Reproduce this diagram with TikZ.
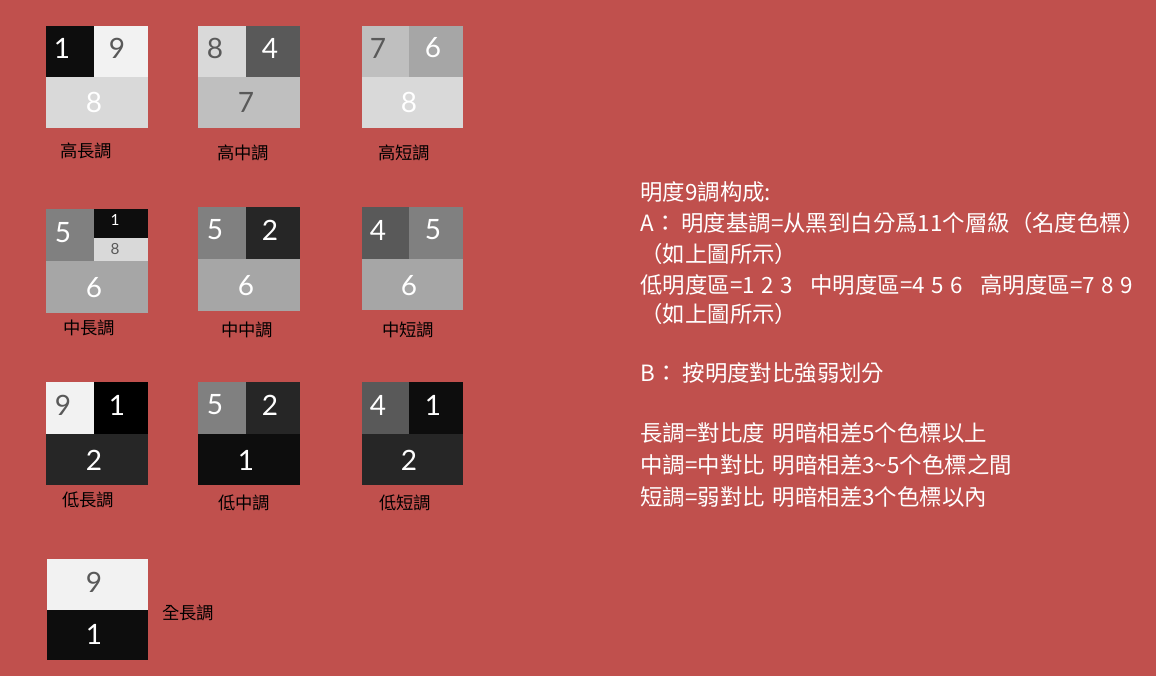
\documentclass[tikz,border=0pt]{standalone}
\usepackage{fontspec}
\setmainfont{Lato}
\newfontfamily\cjk{Noto Sans CJK TC}
\usepackage{tikz}
\definecolor{bgred}{HTML}{C0504D}
\definecolor{g0}{HTML}{000000}
\definecolor{g1}{HTML}{0D0D0D}
\definecolor{g2}{HTML}{262626}
\definecolor{g4}{HTML}{595959}
\definecolor{g5}{HTML}{808080}
\definecolor{g6}{HTML}{A6A6A6}
\definecolor{g7}{HTML}{BFBFBF}
\definecolor{g8}{HTML}{D9D9D9}
\definecolor{g9}{HTML}{F2F2F2}
\tikzset{every picture/.style={line width=0.75pt},
  digit/.style={inner sep=0pt, text=white, font=\fontsize{21}{21}\selectfont},
  darkdigit/.style={digit, text=g4},
  smalldigit/.style={inner sep=0pt, font=\fontsize{11.5}{11.5}\selectfont},
  tonelabel/.style={inner sep=0pt, text=black, font=\cjk\fontsize{13}{13}\selectfont},
  noteline/.style={anchor=west, inner sep=0pt, text=white, font=\cjk\fontsize{16.8}{16.8}\selectfont}}

\begin{document}
\begin{tikzpicture}[x=0.75pt,y=0.75pt,yscale=-1,xscale=1]
    \fill [bgred] (0,0) rectangle (1156,676) ;
    \useasboundingbox (0,0) rectangle (1156,676) ;
    % row 1: high keys
    \fill [g1] (46,26) rectangle (94,77) ;
    \fill [g9] (94,26) rectangle (148,77) ;
    \fill [g8] (46,77) rectangle (148,128) ;
    \fill [g8] (198,26) rectangle (246,77) ;
    \fill [g4] (246,26) rectangle (300,77) ;
    \fill [g7] (198,77) rectangle (300,128) ;
    \fill [g7] (362,26) rectangle (409,77) ;
    \fill [g6] (409,26) rectangle (463,77) ;
    \fill [g8] (362,77) rectangle (463,128) ;
    \node [digit] (hl1) at (62,48) {1};
    \node [darkdigit] (hl9) at (117,48) {9};
    \node [digit] (hl8) at (94,102) {8};
    \node [darkdigit] (hm8) at (215,48) {8};
    \node [digit] (hm4) at (270,48) {4};
    \node [darkdigit] (hm7) at (246,102) {7};
    \node [darkdigit] (hs7) at (378,48) {7};
    \node [digit] (hs6) at (433,48) {6};
    \node [digit] (hs8) at (409,102) {8};
    \node [tonelabel] (hlLabel) at (86,151) {高長調};
    \node [tonelabel] (hmLabel) at (243,153) {高中調};
    \node [tonelabel] (hsLabel) at (404,153) {高短調};
    % row 2: middle keys
    \fill [g5] (46,209) rectangle (94,261) ;
    \fill [g1] (94,209) rectangle (148,238) ;
    \fill [g8] (94,238) rectangle (148,261) ;
    \fill [g6] (46,261) rectangle (148,313) ;
    \fill [g5] (198,207) rectangle (246,259) ;
    \fill [g2] (246,207) rectangle (300,259) ;
    \fill [g6] (198,259) rectangle (300,311) ;
    \fill [g4] (362,207) rectangle (409,259) ;
    \fill [g5] (409,207) rectangle (463,259) ;
    \fill [g6] (362,259) rectangle (463,310) ;
    \node [digit] (ml5) at (63,233) {5};
    \node [smalldigit, text=white] (ml1) at (115,220) {1};
    \node [smalldigit, text=g4] (ml8) at (115,249) {8};
    \node [digit] (ml6) at (94,288) {6};
    \node [digit] (mm5) at (215,230) {5};
    \node [digit] (mm2) at (270,230) {2};
    \node [digit] (mm6) at (246,286) {6};
    \node [digit] (ms4) at (378,230) {4};
    \node [digit] (ms5) at (433,230) {5};
    \node [digit] (ms6) at (409,286) {6};
    \node [tonelabel] (mlLabel) at (89,328) {中長調};
    \node [tonelabel] (mmLabel) at (247,330) {中中調};
    \node [tonelabel] (msLabel) at (408,330) {中短調};
    % row 3: low keys
    \fill [g9] (46,382) rectangle (94,434) ;
    \fill [g0] (94,382) rectangle (148,434) ;
    \fill [g2] (46,434) rectangle (148,485) ;
    \fill [g5] (198,382) rectangle (246,434) ;
    \fill [g2] (246,382) rectangle (300,434) ;
    \fill [g1] (198,434) rectangle (300,485) ;
    \fill [g4] (362,382) rectangle (409,434) ;
    \fill [g1] (409,382) rectangle (463,434) ;
    \fill [g2] (362,434) rectangle (463,485) ;
    \node [darkdigit] (ll9) at (63,405) {9};
    \node [digit] (ll1) at (117,405) {1};
    \node [digit] (ll2) at (94,460) {2};
    \node [digit] (lm5) at (215,405) {5};
    \node [digit] (lm2) at (270,405) {2};
    \node [digit] (lm1) at (246,460) {1};
    \node [digit] (ls4) at (378,405) {4};
    \node [digit] (ls1) at (433,405) {1};
    \node [digit] (ls2) at (409,460) {2};
    \node [tonelabel] (llLabel) at (88,500) {低長調};
    \node [tonelabel] (lmLabel) at (244,503) {低中調};
    \node [tonelabel] (lsLabel) at (405,503) {低短調};
    % row 4: full long key
    \fill [g9] (47,559) rectangle (148,610) ;
    \fill [g1] (47,610) rectangle (148,660) ;
    \node [darkdigit] (fl9) at (94,582) {9};
    \node [digit] (fl1) at (94,634) {1};
    \node [tonelabel] (flLabel) at (188,613) {全長調};
    % notes
    \node [noteline] (title) at (640,192) {明度9調构成:};
    \node [noteline] (noteA) at (640,223) {A：\ 明度基調=从黑到白分爲11个層級（名度色標）};
    \node [noteline] (noteA2) at (640,254) {（如上圖所示）};
    \node [noteline] (zones) at (640,285) {低明度區=1\hspace{5pt}2\hspace{5pt}3\hspace{13pt}中明度區=4\hspace{5pt}5\hspace{5pt}6\hspace{13pt}高明度區=7\hspace{5pt}8\hspace{5pt}9};
    \node [noteline] (zones2) at (640,314) {（如上圖所示）};
    \node [noteline] (noteB) at (640,373) {B：\ 按明度對比強弱划分};
    \node [noteline] (longKey) at (640,433) {長調=對比度\hspace{6pt}明暗相差5个色標以上};
    \node [noteline] (midKey) at (640,465) {中調=中對比\hspace{6pt}明暗相差3\textasciitilde5个色標之間};
    \node [noteline] (shortKey) at (640,497) {短調=弱對比\hspace{6pt}明暗相差3个色標以內};
\end{tikzpicture}
\end{document}
